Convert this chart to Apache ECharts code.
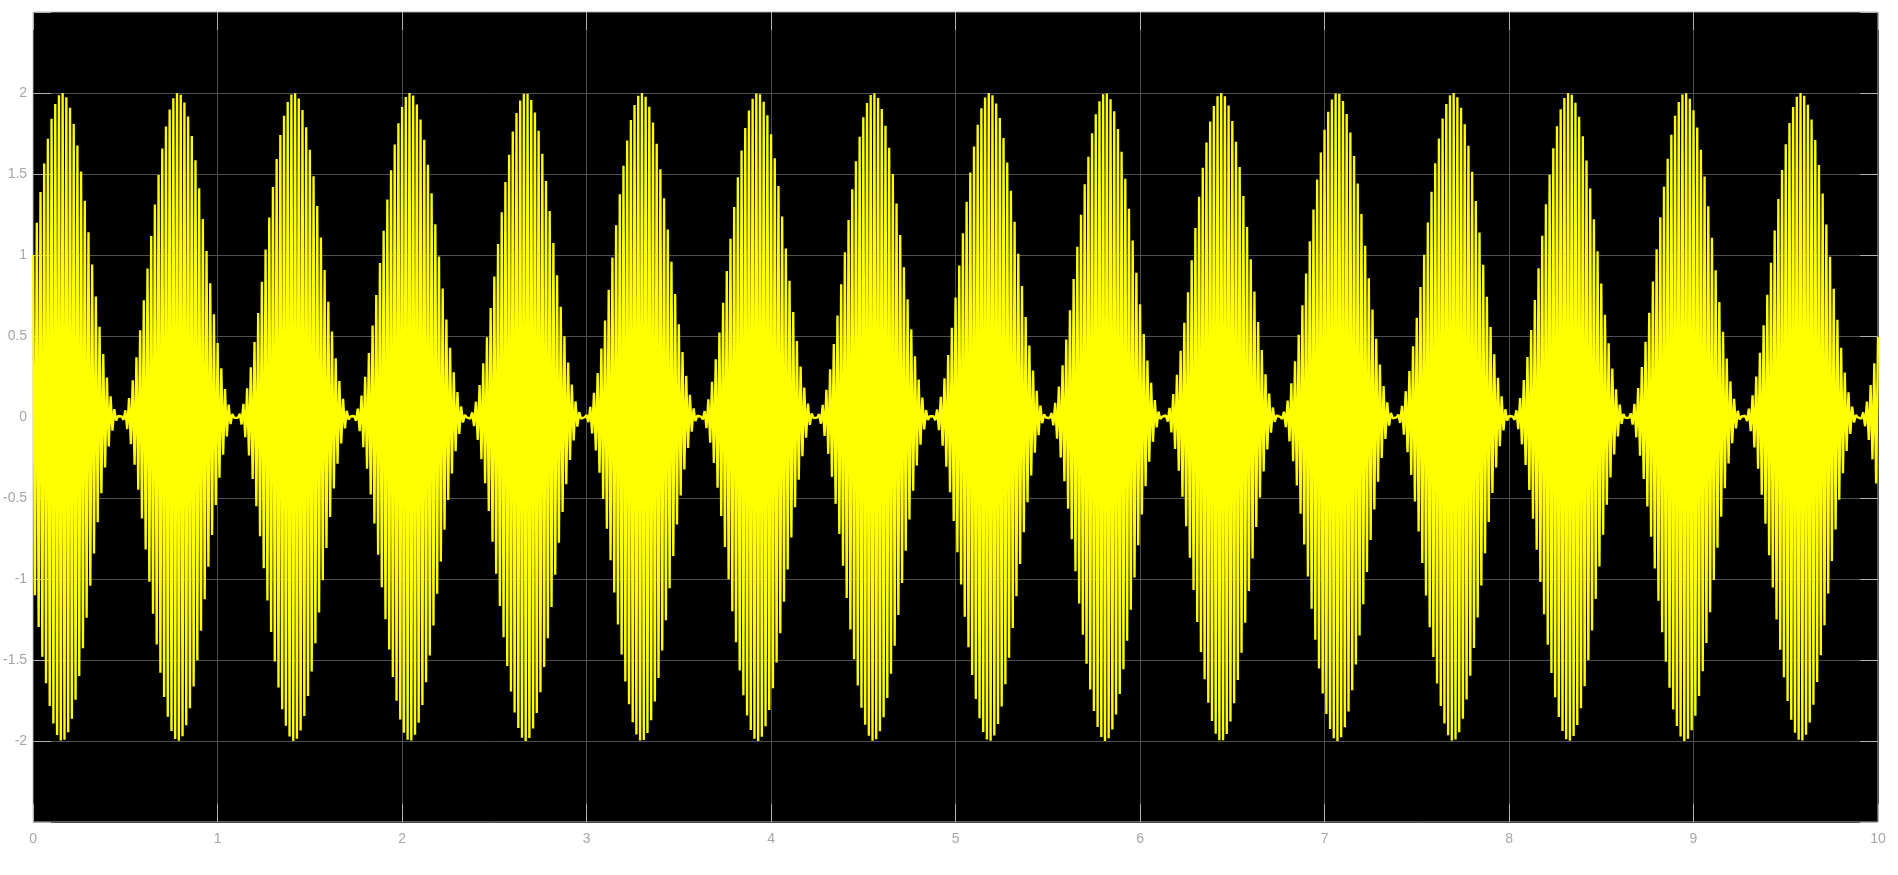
<!DOCTYPE html>
<html>
<head>
<meta charset="utf-8">
<script src="https://cdn.jsdelivr.net/npm/echarts@6/dist/echarts.min.js"></script>
<style>
html,body{margin:0;padding:0;background:#fff;}
#chart{width:1898px;height:875px;}
</style>
</head>
<body>
<div id="chart"></div>
<script>
// Axis tick labels
const xTicks = [0, 1, 2, 3, 4, 5, 6, 7, 8, 9, 10];
const yTicks = [-2, -1.5, -1, -0.5, 0, 0.5, 1, 1.5, 2];

// Signal: samples every 0.01 s of two unit tones
// (a 50 Hz cosine and a sine 10 rad/s faster), first samples 1, -1.1, 1.2 ...
const sampleTimes = [0, 10, 0.01];            // start, stop, step (s)
const toneAmplitudes = [1, 1];
const toneRadPerSec = [314.159265, 324.159265];
const tonePhases = [1.5707963, 0];

const signal = [];
const nSamples = Math.round((sampleTimes[1] - sampleTimes[0]) / sampleTimes[2]);
for (let i = 0; i <= nSamples; i++) {
  const t = sampleTimes[0] + i * sampleTimes[2];
  let v = 0;
  for (let k = 0; k < toneAmplitudes.length; k++) {
    v += toneAmplitudes[k] * Math.sin(toneRadPerSec[k] * t + tonePhases[k]);
  }
  signal.push([t, v]);
}

const chart = echarts.init(document.getElementById('chart'), null, {renderer: 'canvas'});
const labelStyle = {color: '#a6a6a6', fontFamily: 'Liberation Sans, Arial, sans-serif', fontSize: 14};
const gridLine = {show: true, lineStyle: {color: '#4f4f4f', width: 1}};
function ticks() { return {show: true, inside: true, length: 18, lineStyle: {color: '#b0b0b0', width: 1}}; }
const noLine = {show: false, onZero: false};

chart.setOption({
  animation: false,
  backgroundColor: '#ffffff',
  grid: {left: 32, right: 20, top: 12, bottom: 53, show: true, backgroundColor: '#000000', borderColor: '#b8b8b8', borderWidth: 1},
  xAxis: [
    {type: 'value', min: xTicks[0], max: xTicks[xTicks.length - 1], interval: 1, position: 'bottom',
     axisLine: noLine, axisTick: ticks(), splitLine: gridLine,
     axisLabel: Object.assign({margin: 10}, labelStyle)},
    {type: 'value', min: xTicks[0], max: xTicks[xTicks.length - 1], interval: 1, position: 'top',
     axisLine: noLine, axisTick: ticks(), splitLine: {show: false}, axisLabel: {show: false}}
  ],
  yAxis: [
    {type: 'value', min: -2.5, max: 2.5, interval: 0.5, position: 'left',
     axisLine: noLine, axisTick: ticks(), splitLine: gridLine,
     axisLabel: Object.assign({margin: 6, formatter: function (v) { return yTicks.indexOf(v) >= 0 ? String(v) : ''; }}, labelStyle)},
    {type: 'value', min: -2.5, max: 2.5, interval: 0.5, position: 'right',
     axisLine: noLine, axisTick: ticks(), splitLine: {show: false}, axisLabel: {show: false}}
  ],
  series: [{
    type: 'line',
    data: signal,
    showSymbol: false,
    symbol: 'none',
    sampling: null,
    lineStyle: {color: '#ffff00', width: 2.35},
    z: 3
  }]
});
</script>
</body>
</html>
